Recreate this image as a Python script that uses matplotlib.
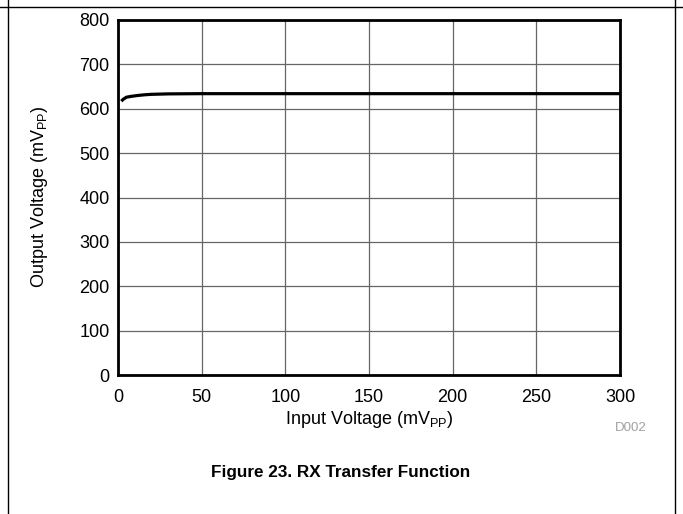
import matplotlib
matplotlib.use("Agg")
import matplotlib.pyplot as plt
from matplotlib.lines import Line2D

plt.rcParams['font.family'] = ['Liberation Sans', 'DejaVu Sans']
plt.rcParams['mathtext.fontset'] = 'custom'
plt.rcParams['mathtext.rm'] = 'Liberation Sans'

# 数据
vin = [2, 3, 5, 8, 12, 16, 20, 30, 50, 100, 150, 200, 250, 300]
vout = [617, 621, 626, 628, 630, 631.5, 632.5, 633.5, 634, 634, 634, 634, 634, 634]
xticks = [0, 50, 100, 150, 200, 250, 300]
yticks = [0, 100, 200, 300, 400, 500, 600, 700, 800]

W, H = 683, 514
fig = plt.figure(figsize=(W / 100, H / 100), dpi=100)
ax = fig.add_axes([118 / W, 1 - 375 / H, (620 - 118) / W, (375 - 20) / H])

ax.plot(vin, vout, color='black', lw=2.3, solid_capstyle='butt')
ax.set_xlim(0, 300)
ax.set_ylim(0, 800)
ax.set_xticks(xticks)
ax.set_yticks(yticks)
ax.grid(True, color='#666666', lw=0.9)
ax.tick_params(length=0, labelsize=13)
ax.tick_params(axis='x', pad=10)
ax.tick_params(axis='y', pad=6)
for s in ax.spines.values():
    s.set_linewidth(2)
    s.set_color('black')

# 轴标题
fig.text(369 / W, 1 - 419 / H, 'Input Voltage (mV$_{\\mathrm{PP}}$)', fontsize=13,
         ha='center', va='center')
fig.text(40 / W, 1 - 197 / H, 'Output Voltage (mV$_{\\mathrm{PP}}$)', fontsize=13,
         ha='center', va='center', rotation=90)

fig.text(647 / W, 1 - 428 / H, 'D002', fontsize=9.5, color='#a0a0a0', ha='right', va='center')
fig.text(341 / W, 1 - 472 / H, 'Figure 23. RX Transfer Function', fontsize=12.3,
         fontweight='bold', ha='center', va='center')

# 外框线
fig.add_artist(Line2D([8 / W, 8 / W], [0, 1], color='black', lw=1))
fig.add_artist(Line2D([675 / W, 675 / W], [0, 1], color='black', lw=1))
fig.add_artist(Line2D([0, 1], [1 - 7 / H, 1 - 7 / H], color='black', lw=1))

fig.savefig('out.png', dpi=100)
